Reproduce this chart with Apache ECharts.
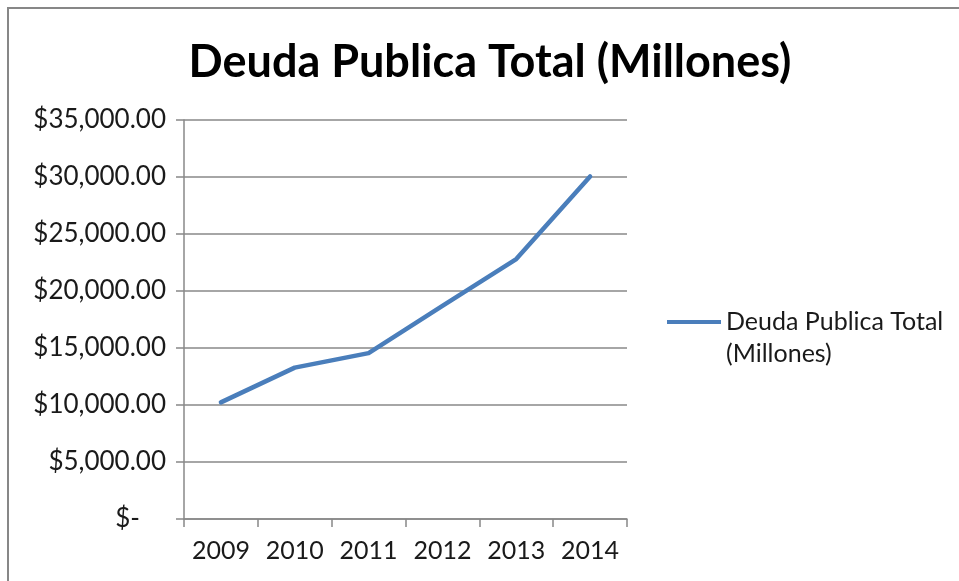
<!DOCTYPE html>
<html>
<head>
<meta charset="utf-8">
<title>Deuda Publica Total (Millones)</title>
<script src="https://cdn.jsdelivr.net/npm/echarts@6/dist/echarts.min.js"></script>
<style>
  html, body { margin: 0; padding: 0; background: #ffffff; }
  #chart { width: 959px; height: 581px; }
</style>
</head>
<body>
<div id="chart"></div>
<script>
// Public debt per year, in millions
const years = ['2009', '2010', '2011', '2012', '2013', '2014'];
const deuda = [10230, 13280, 14550, 18700, 22800, 30050];
const seriesName = 'Deuda Publica Total (Millones)';
const yTicks = [0, 5000, 10000, 15000, 20000, 25000, 30000, 35000];

const FONT = 'Lato';
const TEXT = '#1a1a1a';
const GRID = '#888888';

function money(v) {
  if (v === 0) return '{z|$-}';
  return '$' + v.toLocaleString('en-US', { minimumFractionDigits: 2, maximumFractionDigits: 2 });
}

const chart = echarts.init(document.getElementById('chart'), null, { renderer: 'canvas' });
chart.setOption({
  backgroundColor: '#ffffff',
  animation: false,
  title: {
    text: seriesName,
    left: 485,
    top: 35,
    textAlign: 'center',
    textStyle: { fontFamily: FONT, fontWeight: 'bold', fontSize: 45, color: '#000000' }
  },
  graphic: [{
    type: 'rect',
    shape: { x: 8, y: 8, width: 1000, height: 700 },
    style: { fill: 'none', stroke: '#878787', lineWidth: 2 },
    silent: true
  }],
  legend: {
    left: 667,
    top: 274,
    padding: 0,
    orient: 'vertical',
    icon: 'rect',
    itemWidth: 54,
    itemHeight: 4,
    // empty first line keeps "Deuda Publica Total" level with the line icon
    formatter: () => '\nDeuda Publica Total\n(Millones)',
    textStyle: { fontFamily: FONT, fontSize: 25, color: TEXT, lineHeight: 32 },
    data: [seriesName]
  },
  grid: { left: 184, right: 332, top: 120, bottom: 62, containLabel: false },
  xAxis: {
    type: 'category',
    data: years,
    boundaryGap: true,
    axisLine: { show: true, lineStyle: { color: GRID, width: 1.5 } },
    axisTick: { show: true, interval: 0, length: 8, lineStyle: { color: GRID, width: 1.5 } },
    axisLabel: { interval: 0, hideOverlap: false, fontFamily: FONT, fontSize: 25, color: TEXT, margin: 19 },
    splitLine: { show: false }
  },
  yAxis: {
    type: 'value',
    min: yTicks[0],
    max: yTicks[yTicks.length - 1],
    interval: yTicks[1] - yTicks[0],
    axisLine: { show: true, lineStyle: { color: GRID, width: 1.5 } },
    axisTick: { show: true, length: 8, lineStyle: { color: GRID, width: 1.5 } },
    axisLabel: {
      fontFamily: FONT, fontSize: 26, color: TEXT, margin: 18,
      formatter: money,
      rich: { z: { fontFamily: FONT, fontSize: 26, color: TEXT, padding: [0, 26, 0, 0] } }
    },
    splitLine: { show: true, lineStyle: { color: GRID, width: 1.5 } }
  },
  series: [{
    name: seriesName,
    type: 'line',
    data: deuda,
    symbol: 'none',
    smooth: false,
    lineStyle: { color: '#4A7EBB', width: 4.5, cap: 'round', join: 'round' },
    itemStyle: { color: '#4A7EBB' }
  }]
});
</script>
</body>
</html>
